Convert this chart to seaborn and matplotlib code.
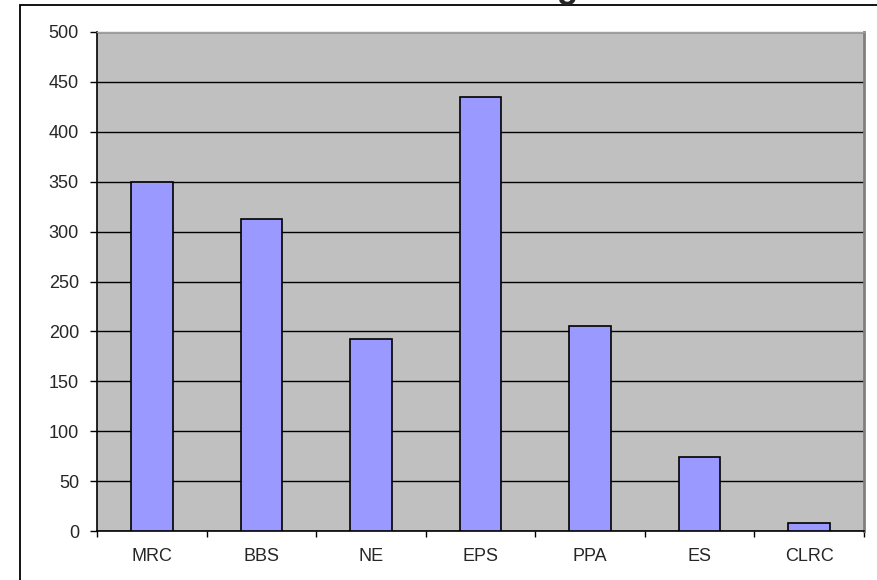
import matplotlib
matplotlib.use('Agg')
import matplotlib.pyplot as plt
from matplotlib.patches import Rectangle
import numpy as np
import pandas as pd
import seaborn as sns

# Data
categories = ['MRC', 'BBS', 'NE', 'EPS', 'PPA', 'ES', 'CLRC']
values = [350, 313, 192, 435, 205, 74, 8]
y_ticks = list(range(0, 501, 50))

df = pd.DataFrame({'category': categories, 'value': values})

sns.set_style('white')
plt.rcParams['font.family'] = ['Liberation Sans', 'DejaVu Sans']

fig = plt.figure(figsize=(8.77, 5.8), dpi=100)
W, H = 877, 580
ax = fig.add_axes([97 / W, 1 - 531 / H, (864 - 97) / W, (531 - 32) / H])

# outer chart frame (clipped on right and bottom)
fig.patches.append(Rectangle((20 / W, -0.1), 1.0, 1 - 5 / H + 0.1, transform=fig.transFigure,
                             fill=False, edgecolor='black', linewidth=1.3, zorder=0))

ax.set_facecolor('#C0C0C0')
sns.barplot(data=df, x='category', y='value', color='#9999FF', width=0.38,
            edgecolor='black', linewidth=1.2, saturation=1, ax=ax, zorder=3)

ax.set_ylim(0, 500)
ax.set_xlim(-0.5, len(categories) - 0.5)
ax.set_yticks(y_ticks)
ax.yaxis.grid(True, color='black', linewidth=1.0)
ax.set_axisbelow(True)
ax.set_xlabel('')
ax.set_ylabel('')

# tick marks between categories, labels centred
ax.set_xticks(np.arange(len(categories)))
ax.set_xticklabels(categories)
ax.set_xticks(np.arange(len(categories) + 1) - 0.5, minor=True)
ax.tick_params(axis='x', which='major', length=0, pad=12, labelsize=13)
ax.tick_params(axis='x', which='minor', length=4, width=1, color='black', direction='out', bottom=True)
ax.tick_params(axis='y', length=5, width=1, color='black', direction='out', left=True, labelsize=13, pad=8)

for side in ['left', 'bottom']:
    ax.spines[side].set_color('black')
    ax.spines[side].set_linewidth(1.2)
ax.spines['top'].set_color('#A0A0A0')
ax.spines['top'].set_linewidth(1.0)
ax.spines['right'].set_color('#808080')
ax.spines['right'].set_linewidth(2.0)

# title is cut off at the top of the image; only the descender shows
fig.text(567 / W, 1 + 2 / H, 'g', ha='center', va='baseline', fontsize=25, fontweight='bold')

fig.savefig('out.png', dpi=100)
